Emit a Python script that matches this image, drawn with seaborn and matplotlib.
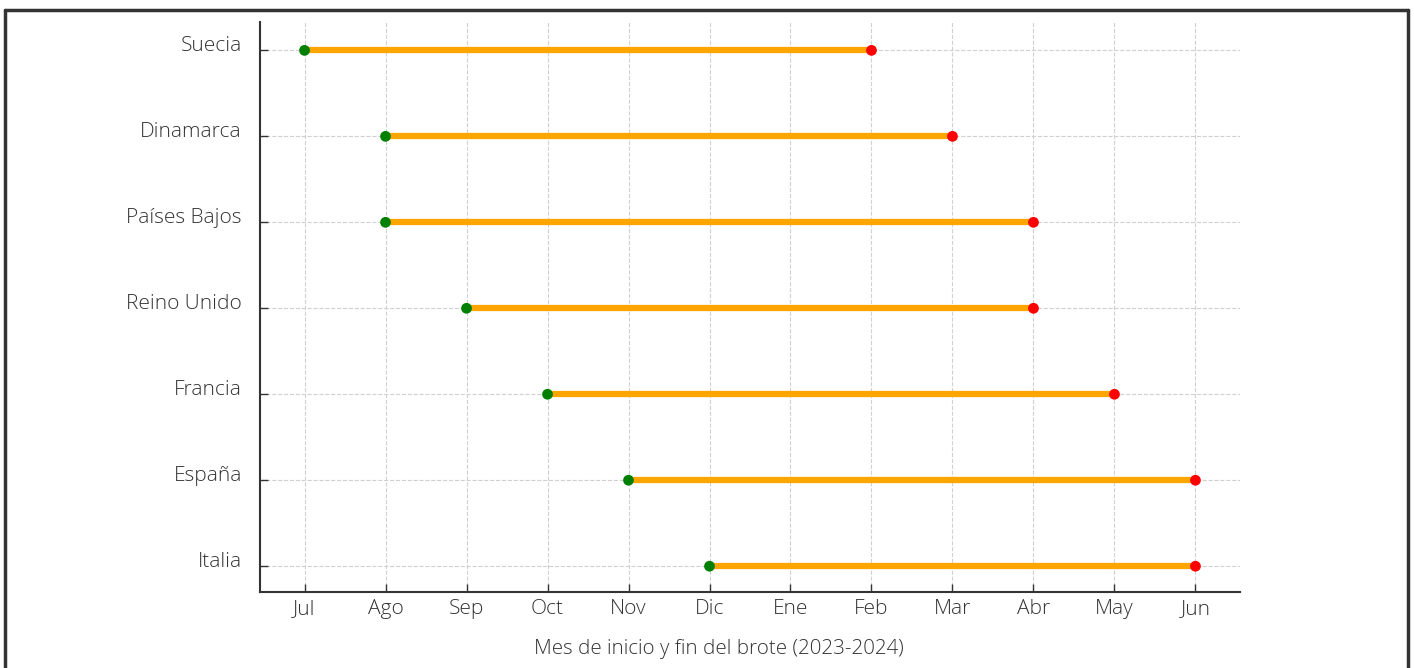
import pandas as pd
import numpy as np
import seaborn as sns
import matplotlib.pyplot as plt
from matplotlib.lines import Line2D
from matplotlib.transforms import ScaledTranslation

# Outbreak start / end month for each country
countries = ["Italia", "España", "Francia", "Reino Unido", "Países Bajos", "Dinamarca", "Suecia"]
start_month = ["Dic", "Nov", "Oct", "Sep", "Ago", "Ago", "Jul"]
end_month = ["Jun", "Jun", "May", "Abr", "Abr", "Mar", "Feb"]
month_labels = ["Jul", "Ago", "Sep", "Oct", "Nov", "Dic", "Ene", "Feb", "Mar", "Abr", "May", "Jun"]

month_idx = {m: i for i, m in enumerate(month_labels)}
df = pd.DataFrame({
    "country": countries,
    "start": [month_idx[m] for m in start_month],
    "end": [month_idx[m] for m in end_month],
})
df["y"] = np.arange(len(df))

sns.set_style("ticks")
plt.rcParams["font.family"] = ["Open Sans", "DejaVu Sans"]
plt.rcParams["font.weight"] = "light"

fig = plt.figure(figsize=(14.14, 6.68), dpi=100)
ax = fig.add_axes([260 / 1414, 1 - 592 / 668, 980 / 1414, 570 / 668])

ax.grid(True, linestyle="--", color="#d0d0d0", linewidth=0.8)
ax.set_axisbelow(True)

ax.hlines(df["y"], df["start"], df["end"], color="#FFA500", linewidth=4.5, zorder=2)
sns.scatterplot(data=df, x="start", y="y", color="green", s=60, edgecolor="none", zorder=3, ax=ax)
sns.scatterplot(data=df, x="end", y="y", color="red", s=60, edgecolor="none", zorder=3, ax=ax)

ax.set_xlim(-0.55, 11.55)
ax.set_ylim(-0.3, 6.33)
ax.set_xticks(range(len(month_labels)))
ax.set_xticklabels(month_labels)
ax.set_yticks(df["y"])
ax.set_yticklabels(df["country"])
ax.tick_params(direction="in", labelsize=15, colors="#333333", length=6, width=1)
ax.tick_params(axis="y", pad=13)
ax.tick_params(axis="x", pad=5)
# country labels sit a little above their tick in the original
shift = ScaledTranslation(0, 5 / 72, fig.dpi_scale_trans)
for t in ax.get_yticklabels():
    t.set_transform(t.get_transform() + shift)

ax.set_ylabel("")
ax.set_xlabel("Mes de inicio y fin del brote (2023-2024)", fontsize=14.8, color="#333333", fontweight="light")
ax.xaxis.set_label_coords((719 - 260) / 980, -0.082)

sns.despine(ax=ax)
for side in ["left", "bottom"]:
    ax.spines[side].set_color("#333333")
    ax.spines[side].set_linewidth(1.5)

# frame around the figure (bottom edge is cut off)
fx0, fx1, fy = 4.5 / 1414, 1407.5 / 1414, 1 - 10 / 668
for xs, ys in [([fx0, fx0], [-0.1, fy]), ([fx0, fx1], [fy, fy]), ([fx1, fx1], [fy, -0.1])]:
    fig.add_artist(Line2D(xs, ys, transform=fig.transFigure, color="#333333", linewidth=2.5))

fig.savefig("out.png", dpi=100)
